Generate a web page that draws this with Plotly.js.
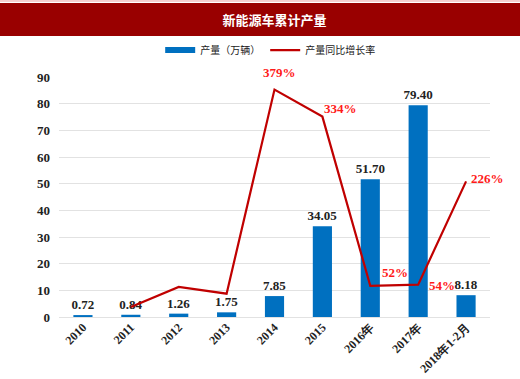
<!DOCTYPE html>
<html><head><meta charset="utf-8">
<script src="https://cdn.plot.ly/plotly-3.0.1.min.js"></script>
<style>html,body{margin:0;padding:0;background:#fff}#c{width:520px;height:379px}</style>
</head><body><div id="c"></div>
<script>
var categories = ["2010","2011","2012","2013","2014","2015","2016年","2017年","2018年1-2月"];
var output = [0.72, 0.84, 1.26, 1.75, 7.85, 34.05, 51.70, 79.40, 8.18];
var outputLabels = ["0.72","0.84","1.26","1.75","7.85","34.05","51.70","79.40","8.18"];
var growthCats = ["2011","2012","2013","2014","2015","2016年","2017年","2018年1-2月"];
var growth = [16.7, 50, 38.9, 379, 334, 52, 54, 226];
var growthLabels = ["","","","379%","334%","52%","54%","226%"];

var serif = "Liberation Serif, Times New Roman, serif";
var cjk = "Noto Sans CJK SC, sans-serif";
var G2 = 400 / 90; // secondary-to-primary scale factor (hidden axis 0..400)

// label offsets (pixels) for percentage annotations
var shiftX = [0, 0, 0, 5, 18, 25, 24, 21];
var shiftY = [0, 0, 0, 17, 8, 13, -1, 3];

var traces = [
  {type:"bar", name:"产量（万辆）", x:categories, y:output, text:outputLabels,
   textposition:"outside", cliponaxis:false, constraintext:"none", showlegend:false,
   textfont:{family:serif, size:13, color:"#222", weight:"bold"},
   marker:{color:"#0070C0"}, width:0.4, hoverinfo:"none"},
  {type:"scatter", mode:"lines", name:"产量（万辆）", x:[categories[0], categories[1]], y:[null, null],
   line:{color:"#0070C0", width:6}, hoverinfo:"none"},
  {type:"scatter", mode:"lines", name:"产量同比增长率", x:growthCats, y:growth, yaxis:"y2",
   cliponaxis:false, line:{color:"#C00000", width:2.2}, hoverinfo:"none"}
];

var annotations = [];
for (var i = 0; i < growthCats.length; i++) {
  if (!growthLabels[i]) continue;
  annotations.push({x:categories.indexOf(growthCats[i]), y:growth[i], xref:"x", yref:"y2",
    text:"<b>" + growthLabels[i] + "</b>", showarrow:false,
    xanchor:"center", yanchor:"middle", xshift:shiftX[i], yshift:shiftY[i],
    font:{family:serif, size:13, color:"#FF1a1a"}});
}

var layout = {
  width:520, height:379,
  margin:{l:59, r:30, t:77, b:62},
  paper_bgcolor:"#fff", plot_bgcolor:"#fff",
  showlegend:true,
  title:{text:"<b>新能源车累计产量</b>", font:{family:cjk, size:13, color:"#fff"},
         x:0.5, xref:"paper", xanchor:"center", y:0.947, yanchor:"middle"},
  legend:{orientation:"h", x:0.49, xanchor:"center", y:1.112, yanchor:"middle",
          font:{family:cjk, size:10, color:"#222"}, itemwidth:30, bgcolor:"rgba(0,0,0,0)"},
  xaxis:{type:"category", categoryorder:"array", categoryarray:categories,
         range:[-0.5, categories.length - 0.5],
         tickangle:-45, showgrid:false, showline:false, ticks:"",
         tickfont:{family:serif, size:12, color:"#222", weight:"bold"}, fixedrange:true},
  yaxis:{range:[0,90], dtick:10, showgrid:true, gridcolor:"#e2e2e2", gridwidth:1,
         zeroline:true, zerolinecolor:"#e2e2e2", zerolinewidth:1, showline:false, ticks:"",
         ticklabelstandoff:8,
         tickfont:{family:serif, size:13, color:"#222", weight:"bold"}, fixedrange:true},
  yaxis2:{range:[0,90*G2], overlaying:"y", side:"right", visible:false, fixedrange:true},
  annotations:annotations,
  shapes:[
    {type:"rect", xref:"paper", yref:"paper", x0:-0.15, x1:1.08, y0:1.1708, y1:1.3083,
     fillcolor:"#990000", line:{width:0}, layer:"below"},
    {type:"line", xref:"paper", yref:"paper", x0:-0.15, x1:1.08, y0:1.3167, y1:1.3167,
     line:{color:"#e8a0a0", width:1}, layer:"below"}
  ]
};
Plotly.newPlot("c", traces, layout, {displayModeBar:false, staticPlot:true});
</script></body></html>
